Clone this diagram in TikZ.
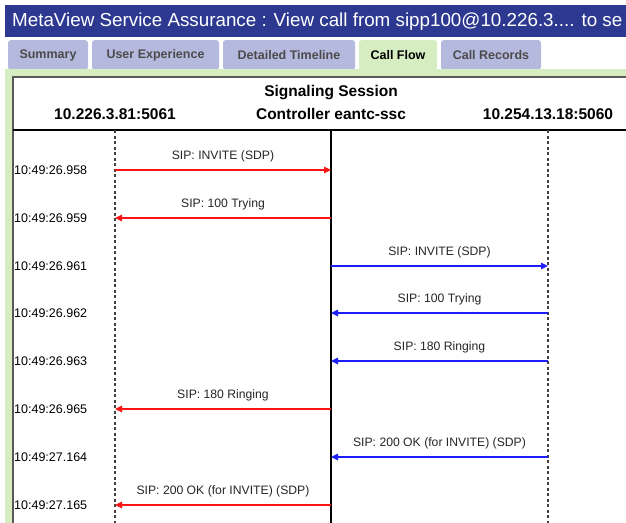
\documentclass[tikz,border=0pt]{standalone}
\usepackage{fontspec}
\setmainfont{Liberation Sans}
\usetikzlibrary{arrows.meta}
\definecolor{barblue}{RGB}{45,57,145}
\definecolor{tablav}{RGB}{181,185,222}
\definecolor{tabgreen}{RGB}{214,237,193}
\definecolor{tabtext}{RGB}{75,75,75}
\definecolor{msgred}{RGB}{250,20,20}
\definecolor{msgblue}{RGB}{30,30,250}
\tikzset{
  tab/.style={fill=tablav, rounded corners=3pt, minimum height=30pt, inner sep=0pt,
    text=tabtext, font=\fontsize{12.5}{14}\selectfont\bfseries},
  curtab/.style={tab, fill=tabgreen, text=black},
  head/.style={inner sep=0pt, font=\fontsize{15.5}{17}\selectfont\bfseries},
  stamp/.style={anchor=west, inner sep=0pt, font=\fontsize{12.5}{14}\selectfont},
  lifeline/.style={line width=1.1pt, black!75, dash pattern=on 3pt off 2.5pt},
  msg/.style={line width=1.3pt, -{Triangle[length=7pt,width=6.5pt]}},
  redmsg/.style={msg, msgred},
  bluemsg/.style={msg, msgblue},
  msglabel/.style={above=7.5pt, inner sep=0pt, text=black!85, font=\fontsize{12.2}{14}\selectfont}
}
\begin{document}
\begin{tikzpicture}[x=1pt, y=-1pt]
\useasboundingbox (0,0) rectangle (626,522);
\clip (0,0) rectangle (626,522);
\fill[white] (0,0) rectangle (626,522);
\fill[barblue] (5,5) rectangle (640,37);
\node[anchor=west, inner sep=0pt, text=white, font=\fontsize{18.8}{21}\selectfont] (title) at (12,22)
  {MetaView Service Assurance : View call from sipp100@10.226.3.... to se};
\node[tab, minimum width=80pt] (summary) at (48,55) {Summary};
\node[tab, minimum width=127pt] (userexp) at (155.5,55) {User Experience};
\node[tab, minimum width=132pt] (timeline) at (289,55) {Detailed Timeline};
\node[curtab, minimum width=78pt] (callflow) at (398,55) {Call Flow};
\node[tab, minimum width=100pt] (records) at (491,55) {Call Records};
\fill[tabgreen] (5,69) rectangle (640,540);
\filldraw[fill=white, draw=black!65, line width=2pt] (13,77) rectangle (660,560);
\node[head] (session) at (331,93) {Signaling Session};
\node[head] (ua) at (115,114) {10.226.3.81:5061};
\node[head] (ssc) at (331,114) {Controller eantc-ssc};
\node[head] (peer) at (548,114) {10.254.13.18:5060};
\coordinate (rule) at (13,130);
\coordinate (floor) at (13,530);
\draw[line width=2pt] (rule) -- (rule -| 640,0);
\draw[lifeline] (ua |- rule) -- (ua |- floor);
\draw[line width=1.1pt] (ssc |- rule) -- (ssc |- floor);
\draw[lifeline] (peer |- rule) -- (peer |- floor);
\node[stamp] (t1) at (14,170) {10:49:26.958};
\node[stamp] (t2) at (14,218) {10:49:26.959};
\node[stamp] (t3) at (14,266) {10:49:26.961};
\node[stamp] (t4) at (14,313) {10:49:26.962};
\node[stamp] (t5) at (14,361) {10:49:26.963};
\node[stamp] (t6) at (14,409) {10:49:26.965};
\node[stamp] (t7) at (14,457) {10:49:27.164};
\node[stamp] (t8) at (14,505) {10:49:27.165};
\draw[redmsg] (ua |- t1) -- (ssc |- t1) node[midway, msglabel] {SIP: INVITE (SDP)};
\draw[redmsg] (ssc |- t2) -- (ua |- t2) node[midway, msglabel] {SIP: 100 Trying};
\draw[bluemsg] (ssc |- t3) -- (peer |- t3) node[midway, msglabel] {SIP: INVITE (SDP)};
\draw[bluemsg] (peer |- t4) -- (ssc |- t4) node[midway, msglabel] {SIP: 100 Trying};
\draw[bluemsg] (peer |- t5) -- (ssc |- t5) node[midway, msglabel] {SIP: 180 Ringing};
\draw[redmsg] (ssc |- t6) -- (ua |- t6) node[midway, msglabel] {SIP: 180 Ringing};
\draw[bluemsg] (peer |- t7) -- (ssc |- t7) node[midway, msglabel] {SIP: 200 OK (for INVITE) (SDP)};
\draw[redmsg] (ssc |- t8) -- (ua |- t8) node[midway, msglabel] {SIP: 200 OK (for INVITE) (SDP)};
\end{tikzpicture}
\end{document}
